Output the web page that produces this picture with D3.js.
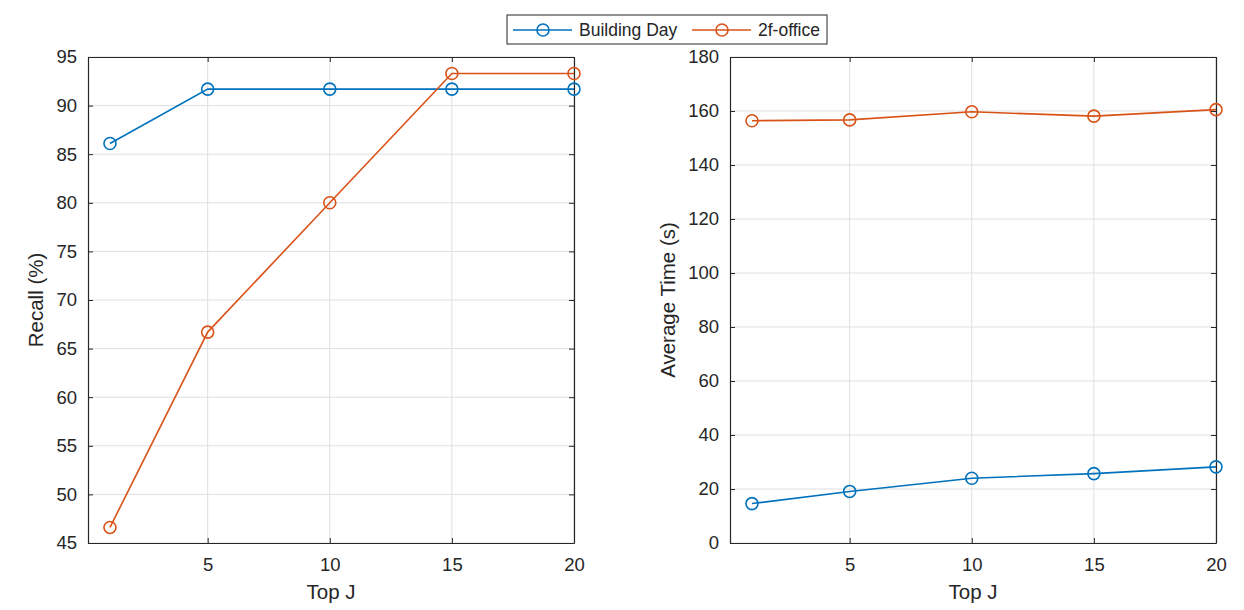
<!DOCTYPE html>
<html>
    <head>
        <style>
         body {
             margin: 0;
             background-color: #ffffff;
         }
         text {
             font-family: "Liberation Sans", Arial, sans-serif;
             fill: #262626;
         }
         .grid line {
             stroke: #dfdfdf;
             stroke-width: 1;
         }
         .axis path, .axis line {
             stroke: #262626;
         }
        </style>
        <script src="https://d3js.org/d3.v7.min.js"></script>
    </head>
    <body>
        <svg id="chart" width="1244" height="610"></svg>
        <script>
         var topJ = [1, 5, 10, 15, 20];
         var seriesNames = ["Building Day", "2f-office"];
         var recallBuilding = [86.1, 91.7, 91.7, 91.7, 91.7];
         var recallOffice = [46.6, 66.7, 80.0, 93.3, 93.3];
         var timeBuilding = [14.6, 19.1, 24.0, 25.7, 28.2];
         var timeOffice = [156.4, 156.7, 159.7, 158.1, 160.5];
         var xTicks = [5, 10, 15, 20];
         var recallTicks = [45, 50, 55, 60, 65, 70, 75, 80, 85, 90, 95];
         var timeTicks = [0, 20, 40, 60, 80, 100, 120, 140, 160, 180];
         var colors = ["#0072BD", "#D95319"];

         var svg = d3.select("#chart");

         function drawPanel(left, yDomain, yTicks, yLabel, labelOffset, series) {
             var top = 57, width = 486, height = 486;
             var g = svg.append("g")
                        .attr("transform", "translate(" + left + "," + top + ")");

             var x = d3.scaleLinear().domain([0.1, 20]).range([0, width]);
             var y = d3.scaleLinear().domain(yDomain).range([height, 0]);

             // grid
             g.append("g").attr("class", "grid")
              .selectAll("line").data(xTicks).enter().append("line")
              .attr("x1", function(d) { return x(d); })
              .attr("x2", function(d) { return x(d); })
              .attr("y1", 0).attr("y2", height);
             g.append("g").attr("class", "grid")
              .selectAll("line").data(yTicks).enter().append("line")
              .attr("y1", function(d) { return y(d); })
              .attr("y2", function(d) { return y(d); })
              .attr("x1", 0).attr("x2", width);

             // axes, ticks inside like matlab
             g.append("g").attr("class", "axis")
              .attr("transform", "translate(0," + height + ")")
              .call(d3.axisBottom(x).tickValues(xTicks).tickSizeInner(-5).tickSizeOuter(0).tickPadding(15))
              .selectAll("text").style("font-size", "18.5px");
             g.append("g").attr("class", "axis")
              .call(d3.axisTop(x).tickValues(xTicks).tickSizeInner(-5).tickSizeOuter(0).tickFormat(""));
             g.append("g").attr("class", "axis")
              .call(d3.axisLeft(y).tickValues(yTicks).tickSizeInner(-5).tickSizeOuter(0).tickPadding(11))
              .selectAll("text").style("font-size", "18.5px");
             g.append("g").attr("class", "axis")
              .attr("transform", "translate(" + width + ",0)")
              .call(d3.axisRight(y).tickValues(yTicks).tickSizeInner(-5).tickSizeOuter(0).tickFormat(""));
             g.selectAll(".axis path").attr("stroke-width", 1.2);

             g.append("text")
              .attr("x", width / 2).attr("y", height + 56)
              .attr("text-anchor", "middle")
              .style("font-size", "20.5px")
              .text("Top J");
             g.append("text")
              .attr("transform", "translate(" + labelOffset + "," + (height / 2) + ") rotate(-90)")
              .attr("text-anchor", "middle")
              .style("font-size", "20.5px")
              .text(yLabel);

             var line = d3.line()
                          .x(function(d, i) { return x(topJ[i]); })
                          .y(function(d) { return y(d); });

             series.forEach(function(vals, k) {
                 g.append("path")
                  .datum(vals)
                  .attr("fill", "none")
                  .attr("stroke", colors[k])
                  .attr("stroke-width", 1.6)
                  .attr("d", line);
                 g.selectAll(".m" + k)
                  .data(vals).enter().append("circle")
                  .attr("class", "m" + k)
                  .attr("cx", function(d, i) { return x(topJ[i]); })
                  .attr("cy", function(d) { return y(d); })
                  .attr("r", 6)
                  .attr("fill", "none")
                  .attr("stroke", colors[k])
                  .attr("stroke-width", 1.6);
             });
         }

         drawPanel(88, [45, 95], recallTicks, "Recall (%)", -45, [recallBuilding, recallOffice]);
         drawPanel(730, [0, 180], timeTicks, "Average Time (s)", -55, [timeBuilding, timeOffice]);

         // legend
         var lg = svg.append("g").attr("transform", "translate(507,15)");
         lg.append("rect")
           .attr("width", 320).attr("height", 29)
           .attr("fill", "#fff").attr("stroke", "#262626").attr("stroke-width", 1);
         var offsets = [6, 185];
         seriesNames.forEach(function(name, k) {
             var it = lg.append("g").attr("transform", "translate(" + offsets[k] + ",15)");
             it.append("line").attr("x1", 0).attr("x2", 59)
               .attr("stroke", colors[k]).attr("stroke-width", 1.6);
             it.append("circle").attr("cx", 30).attr("r", 6)
               .attr("fill", "none").attr("stroke", colors[k]).attr("stroke-width", 1.6);
             it.append("text").attr("x", 66).attr("y", 6.3)
               .style("font-size", "17.5px").text(name);
         });
        </script>
    </body>
</html>
